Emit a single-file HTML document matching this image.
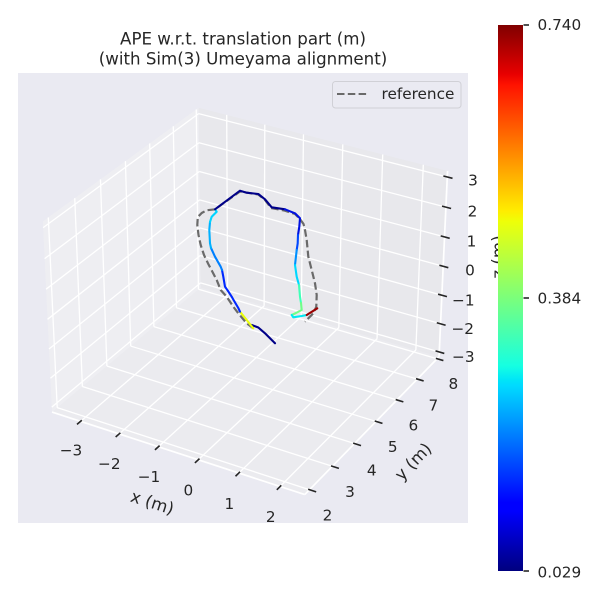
<!DOCTYPE html>
<html><head><meta charset="utf-8">
<style>
html,body{margin:0;padding:0;background:#fff;}
svg{display:block;}
text{font-family:"DejaVu Sans","Liberation Sans",sans-serif;fill:#262626;}
</style></head>
<body>
<svg id="s" width="600" height="600" viewBox="0 0 600 600" xmlns="http://www.w3.org/2000/svg">
<defs>
<linearGradient id="jet" x1="0" y1="1" x2="0" y2="0">
<stop offset="0" stop-color="#00007f"/>
<stop offset="0.11" stop-color="#0000ff"/>
<stop offset="0.125" stop-color="#0000ff"/>
<stop offset="0.34" stop-color="#00dbff"/>
<stop offset="0.35" stop-color="#00e5f7"/>
<stop offset="0.375" stop-color="#15ffe2"/>
<stop offset="0.5" stop-color="#7bff7b"/>
<stop offset="0.625" stop-color="#e2ff15"/>
<stop offset="0.64" stop-color="#eeff08"/>
<stop offset="0.66" stop-color="#ffec00"/>
<stop offset="0.89" stop-color="#ff1300"/>
<stop offset="0.91" stop-color="#e80000"/>
<stop offset="1" stop-color="#800000"/>
</linearGradient>
</defs>
<rect width="600" height="600" fill="#fff"/>
<rect x="18" y="73" width="450" height="450" fill="#EAEAF2"/>
<g id="panes"></g>
<g id="grid" stroke="#fff" stroke-width="1.3" fill="none"></g>
<g id="ticks" stroke="#262626" stroke-width="1.6"></g>

<!-- reference trajectory -->
<polyline fill="none" stroke="#6a6a6a" stroke-width="2.2" stroke-dasharray="7.5 3.3" stroke-linejoin="round"
points="253.3,328.3 246.7,323.3 238.3,313.3 233.3,306.7 226.7,296.7 220.7,290 216.7,280 212,271 208.3,264 204,255 200.7,245 198.5,235 197.3,225 197.8,217 201.7,213 206.7,210.3 215,209.3 240,191.5 258.3,194.5 265,200 271,208 285,210.7 295,214 300,219 303.5,224 305,230 306.7,240 308.3,256.7 311.7,270 315,283.3 316.7,295 316.3,306.7 313.3,313.3 308.3,318.3 305,321.7"/>

<!-- estimate trajectory -->
<g fill="none" stroke-width="2.1" stroke-linejoin="round" stroke-linecap="round">
<polyline stroke="#000088" points="275,343.3 265,333.3 258.3,327.5 251.7,325"/>
<polyline stroke="#eaff0c" points="253.3,328.3 246.7,320 240,311.7"/>
<polyline stroke="#0028ff" points="240,311.7 238.3,308 233,299 231.7,296.7 228,291 225,286.7 223.3,276.7 222,270"/>
<polyline stroke="#0080ff" points="222,270 220.7,266.7 215,256.7 211,248"/>
<polyline stroke="#00b0ff" points="211,248 210,243.3 209.3,230 210,222"/>
<polyline stroke="#00d4ff" points="210,222 211.7,216.7 216.7,211.7 215,209.3"/>
<polyline stroke="#000088" points="215,209.3 240,190.7 246.7,192.7 258.3,194 265,199.3 271.7,207.3 285,209.3"/>
<polyline stroke="#0010e0" points="285,209.3 295,213.3 300,218.3 299.3,226.7 298,235"/>
<polyline stroke="#0048ff" points="298,235 297.7,243.3 296.7,250"/>
<polyline stroke="#0090ff" points="296.7,250 295,265"/>
<polyline stroke="#00d8ff" points="295,265 296.7,276.7 299,285"/>
<polyline stroke="#40ffb8" points="299,285 300,296.7 301,303"/>
<polyline stroke="#70ff88" points="301,303 301.7,310 296,313 291.7,315"/>
<polyline stroke="#00e8f0" points="291.7,315 293.3,317.3 301.7,316 306.7,315"/>
<polyline stroke="#990000" points="306.7,315 317.3,308.3"/>
</g>

<!-- title -->
<text x="243" y="44.5" font-size="16.67" text-anchor="middle">APE w.r.t. translation part (m)</text>
<text x="243" y="64.5" font-size="16.67" text-anchor="middle">(with Sim(3) Umeyama alignment)</text>

<!-- x tick labels -->
<g font-size="15.28" text-anchor="middle">
<text x="71" y="455.5">−3</text>
<text x="109.3" y="468.8">−2</text>
<text x="149" y="482.2">−1</text>
<text x="188.3" y="495.5">0</text>
<text x="229.3" y="508.8">1</text>
<text x="270.7" y="522.2">2</text>
<!-- y tick labels -->
<text x="327.5" y="520.5">2</text>
<text x="350" y="497.2">3</text>
<text x="371.7" y="475.5">4</text>
<text x="392.7" y="452.2">5</text>
<text x="413.3" y="430.5">6</text>
<text x="433.3" y="410.5">7</text>
<text x="453.3" y="388.8">8</text>
<!-- z tick labels -->
<text x="473" y="185.5">3</text>
<text x="472.5" y="216.5">2</text>
<text x="471.5" y="246.5">1</text>
<text x="470" y="275.5">0</text>
<text x="463.3" y="305.5">−1</text>
<text x="462.7" y="333.8">−2</text>
<text x="463.3" y="362.2">−3</text>
</g>

<!-- axis labels -->
<text font-size="16.67" text-anchor="middle" transform="translate(152.3,502.7) rotate(18)" dy="5.5">x (m)</text>
<text font-size="16.67" text-anchor="middle" transform="translate(413.3,461.7) rotate(-46)" dy="5.5">y (m)</text>
<text font-size="16.67" text-anchor="middle" transform="translate(504,257) rotate(-90)">z (m)</text>

<!-- legend -->
<rect x="332.5" y="81.5" width="128.5" height="26.5" rx="3" ry="3" fill="#EAEAF2" stroke="#d0d0d6" stroke-width="1"/>
<line x1="337" y1="94" x2="369" y2="94" stroke="#6a6a6a" stroke-width="2.1" stroke-dasharray="7.5 3.3"/>
<text x="381.5" y="99" font-size="15.28">reference</text>

<!-- colorbar -->
<rect x="498" y="25" width="25" height="546" fill="url(#jet)"/>
<g stroke="#262626" stroke-width="1.6">
<line x1="523.5" y1="25" x2="529" y2="25"/>
<line x1="523.5" y1="298" x2="529" y2="298"/>
<line x1="523.5" y1="571" x2="529" y2="571"/>
</g>
<g font-size="15.28">
<text x="537.5" y="29.8">0.740</text>
<text x="537.5" y="303.6">0.384</text>
<text x="537.5" y="577.5">0.029</text>
</g>
</svg>
<script>
(function(){
var K=2432.4,CX=249.1,CY=291.9;
function P(a,b,c){var u=1.0310*a+0.5952*b-0.8131, v=-0.2976*a+0.5155*b+0.7733*c-0.4955, w=0.5155*a-0.8929*b+0.4464*c-0.0345, d=10-w; return [CX+K*u/d, CY-K*v/d];}
function ax(x){return 0.11827+(x+3)*0.15773;}
function by(y){return 0.0323+(y-2)*0.15864;}
function cz(z){return 0.0268+(z+3)*0.15698;}
var NS="http://www.w3.org/2000/svg";
function el(g,tag,attrs){var e=document.createElementNS(NS,tag);for(var k in attrs)e.setAttribute(k,attrs[k]);g.appendChild(e);return e;}
function line(g,p,q,extra){var a={x1:p[0].toFixed(2),y1:p[1].toFixed(2),x2:q[0].toFixed(2),y2:q[1].toFixed(2)}; if(extra)for(var k in extra)a[k]=extra[k]; return el(g,'line',a);}
function poly(g,pts,fill){el(g,'polygon',{points:pts.map(function(p){return p[0].toFixed(2)+','+p[1].toFixed(2);}).join(' '),fill:fill});}
var panes=document.getElementById('panes');
poly(panes,[P(0,0,0),P(1,0,0),P(1,1,0),P(0,1,0)],'rgb(235,235,239)');
poly(panes,[P(0,0,0),P(0,1,0),P(0,1,1),P(0,0,1)],'rgb(238,238,242)');
poly(panes,[P(0,1,0),P(1,1,0),P(1,1,1),P(0,1,1)],'rgb(232,232,236)');
var g=document.getElementById('grid');
var xs=[-3,-2,-1,0,1,2], ys=[2,3,4,5,6,7,8], zs=[-3,-2,-1,0,1,2,3];
xs.forEach(function(x){var a=ax(x); line(g,P(a,0,0),P(a,1,0)); line(g,P(a,1,0),P(a,1,1));});
ys.forEach(function(y){var b=by(y); line(g,P(0,b,0),P(1,b,0)); line(g,P(0,b,0),P(0,b,1));});
zs.forEach(function(z){var c=cz(z); line(g,P(0,0,c),P(0,1,c)); line(g,P(0,1,c),P(1,1,c));});
line(g,P(0,0,0),P(1,0,0),{'stroke-width':1.7});
line(g,P(1,0,0),P(1,1,0),{'stroke-width':1.7});
line(g,P(1,1,0),P(1,1,1),{'stroke-width':1.7});
var t=document.getElementById('ticks');
xs.forEach(function(x){var a=ax(x); line(t,P(a,-0.022,0),P(a,0.008,0));});
ys.forEach(function(y){var b=by(y); line(t,P(0.995,b,0),P(1.025,b,0));});
zs.forEach(function(z){var c=cz(z); line(t,P(0.985,1,c),P(1.02,1,c));});
})();
</script>
</body></html>
